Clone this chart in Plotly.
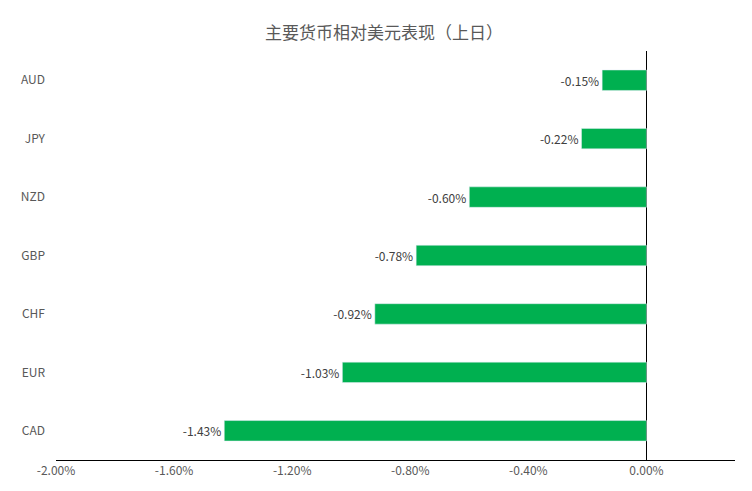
import plotly.graph_objects as go

currencies = ["AUD", "JPY", "NZD", "GBP", "CHF", "EUR", "CAD"]
changes = [-0.15, -0.22, -0.60, -0.78, -0.92, -1.03, -1.43]
tick_vals = [-2.0, -1.6, -1.2, -0.8, -0.4, 0.0]
tick_text = ["-2.00%", "-1.60%", "-1.20%", "-0.80%", "-0.40%", "0.00%"]

fig = go.Figure(go.Bar(
    x=changes, y=currencies, orientation="h",
    marker_color="#00B050",
    text=[f"{v:.2f}%" for v in changes], textposition="outside",
    textfont=dict(size=12, color="#404040"), cliponaxis=False,
))
fig.update_layout(
    width=752, height=491,
    paper_bgcolor="white", plot_bgcolor="white",
    margin=dict(l=48, r=25, t=43, b=39, autoexpand=False),
    bargap=0.65,
    font=dict(family="Noto Sans CJK SC, Noto Sans, sans-serif", size=12, color="#595959"),
    title=dict(text="主要货币相对美元表现（上日）", x=0.5, xanchor="center", y=0.962,
               font=dict(size=17, color="#595959")),
    showlegend=False,
)
fig.update_xaxes(range=[-2.0, 0.3], tickvals=tick_vals, ticktext=tick_text,
                 showgrid=False, zeroline=True, zerolinecolor="black", zerolinewidth=1,
                 showline=True, linecolor="black", linewidth=1, ticks="", automargin=False)
fig.update_yaxes(autorange="reversed", showgrid=False, zeroline=False, showline=False,
                 ticks="", ticklabelstandoff=10, automargin=False)
fig.write_html("out.html")
